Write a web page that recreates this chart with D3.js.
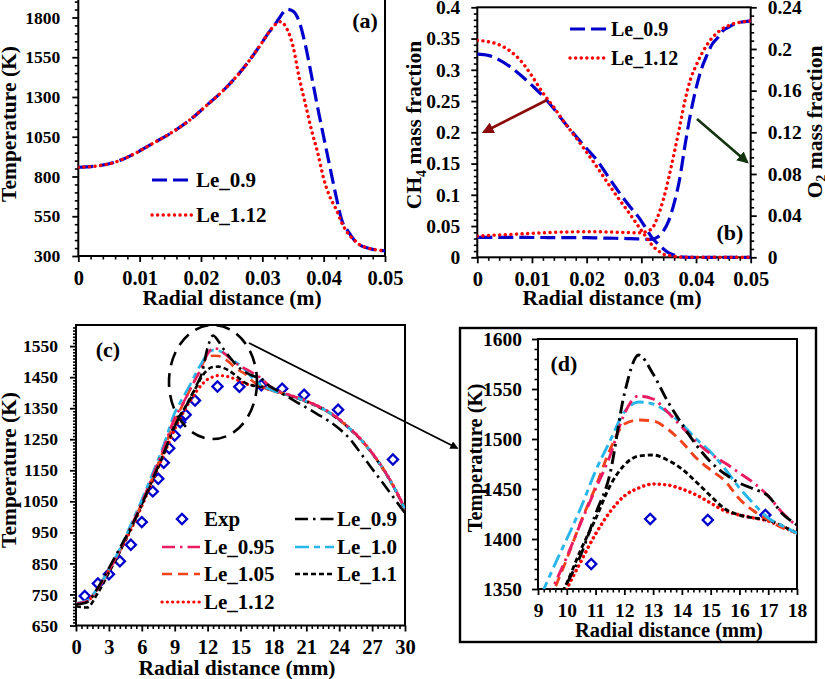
<!DOCTYPE html>
<html><head><meta charset="utf-8">
<script src="https://cdn.jsdelivr.net/npm/d3@7"></script>
<style>
body{margin:0;background:#fff;}
svg{display:block;}
</style></head><body>
<svg id="chart" width="825" height="679"></svg>
<script>
// ---------- DATA ----------
// Panel (a): temperature vs radial distance (m)
const aX = [0,0.003,0.006,0.009,0.012,0.015,0.018,0.021,0.024,0.027,0.03,0.031,0.032,0.033,0.034,0.035,0.036,0.037,0.038,0.039,0.04,0.041,0.042,0.043,0.044,0.045,0.046,0.047,0.048,0.05];
const aT_Le09  = [858,866,890,940,1005,1071,1150,1250,1355,1485,1645,1703,1752,1810,1852,1840,1775,1630,1438,1238,1050,864,680,520,455,400,367,352,342,333];
const aT_Le112 = [858,866,890,940,1005,1071,1150,1250,1355,1485,1645,1703,1752,1773,1729,1620,1423,1259,1094,953,787,673,597,505,440,400,367,352,342,333];
const aXTicks = [0,0.01,0.02,0.03,0.04,0.05];
const aYTicks = [300,550,800,1050,1300,1550,1800];

// Panel (b): CH4 (left axis) and O2 (right axis) mass fractions
const bX = [0,0.002,0.004,0.006,0.008,0.01,0.012,0.014,0.016,0.018,0.02,0.022,0.024,0.026,0.028,0.03,0.031,0.032,0.033,0.034,0.035,0.036,0.037,0.038,0.039,0.04,0.041,0.042,0.043,0.044,0.045,0.046,0.047,0.048,0.05];
const bCH4_Le09  = [0.325,0.323,0.316,0.305,0.291,0.275,0.258,0.2375,0.215,0.194,0.174,0.154,0.128,0.103,0.080,0.058,0.044,0.031,0.0217,0.0138,0.007,0.0035,0.0012,0.0003,0,0,0,0,0,0,0,0,0,0,0];
const bCH4_Le112 = [0.347,0.345,0.340,0.330,0.314,0.290,0.263,0.240,0.215,0.192,0.168,0.143,0.117,0.092,0.068,0.043,0.031,0.019,0.011,0.005,0.003,0.0015,0.0005,0,0,0,0,0,0,0,0,0,0,0,0];
const bO2_Le09   = [0.0192,0.0192,0.0192,0.0191,0.0191,0.019,0.019,0.0189,0.0189,0.0188,0.0188,0.0186,0.0184,0.0182,0.0179,0.0175,0.0173,0.0175,0.0195,0.025,0.035,0.052,0.075,0.108,0.138,0.162,0.181,0.194,0.205,0.211,0.218,0.221,0.224,0.2255,0.227];
const bO2_Le112  = [0.0204,0.021,0.0215,0.022,0.0225,0.023,0.0235,0.024,0.0243,0.0245,0.0246,0.0245,0.0243,0.024,0.0237,0.0235,0.025,0.028,0.039,0.055,0.076,0.100,0.125,0.151,0.171,0.184,0.195,0.204,0.211,0.216,0.220,0.2225,0.2245,0.2255,0.227];
const bXTicks = [0,0.01,0.02,0.03,0.04,0.05];
const bYTicksL = [0,0.05,0.1,0.15,0.2,0.25,0.3,0.35,0.4];
const bYTicksR = [0,0.04,0.08,0.12,0.16,0.2,0.24];

// Panels (c) and (d): temperature vs radial distance (mm)
const cX = [0,1,2,3,4,5,6,7,8,9,9.5,10,10.5,11,11.5,12,12.5,13,13.5,14,14.5,15,15.5,16,16.5,17,17.5,18,19,20,21,22,23,24,25,26,27,28,29,30];
const cT_Le09  = [718,725,772,835,900,965,1040,1122,1205,1292,1325,1355,1385,1425,1465,1545,1584,1565,1538,1515,1494,1477,1465,1456,1450,1443,1425,1414,1393,1372,1352,1331,1310,1284,1250,1203,1155,1108,1060,1012];
const cT_Le095 = [720,728,770,828,893,968,1047,1133,1222,1318,1350,1382,1417,1450,1483,1525,1543,1540,1527,1512,1497,1485,1476,1466,1456,1443,1426,1413,1398,1386,1373,1358,1339,1314,1284,1249,1206,1156,1096,1026];
const cT_Le10  = [722,730,772,830,897,975,1055,1142,1232,1335,1369,1400,1432,1468,1498,1527,1537,1535,1527,1515,1500,1487,1470,1451,1435,1421,1413,1406,1396,1385,1372,1357,1338,1313,1283,1248,1205,1155,1095,1025];
const cT_Le105 = [721,729,771,829,892,965,1043,1128,1216,1310,1345,1380,1418,1452,1489,1515,1519,1518,1510,1497,1481,1469,1458,1440,1428,1419,1411,1406,1396,1385,1372,1357,1338,1313,1283,1248,1205,1155,1095,1025];
const cT_Le11  = [712,708,755,820,888,962,1040,1122,1205,1300,1328,1356,1390,1420,1453,1474,1483,1484,1479,1470,1457,1443,1430,1424,1421,1419,1413,1406,1395,1384,1371,1356,1337,1312,1282,1247,1204,1154,1094,1024];
const cT_Le112 = [722,728,770,828,890,958,1035,1118,1200,1282,1318,1350,1378,1405,1427,1443,1451,1455,1454,1450,1444,1436,1428,1424,1421,1418,1412,1406,1397,1386,1373,1358,1339,1314,1284,1249,1206,1156,1096,1026];
const expX = [0.8,2,3,4,5,6,7,7.5,8,8.5,9,9.5,10,10.85,12.9,14.9,16.9,18.8,20.8,23.9,28.9];
const expT = [745,785,815,857,910,983,1082,1123,1174,1221,1262,1305,1329,1375,1420,1419,1424,1413,1393,1345,1185];
const cXTicks = [0,3,6,9,12,15,18,21,24,27,30];
const cYTicks = [650,750,850,950,1050,1150,1250,1350,1450,1550];
const dXTicks = [9,10,11,12,13,14,15,16,17,18];
const dYTicks = [1350,1400,1450,1500,1550,1600];

const seriesNames = ["Le_0.9","Le_0.95","Le_1.0","Le_1.05","Le_1.1","Le_1.12"];

// ---------- STYLES ----------
const FONT = '"Liberation Serif","Times New Roman",serif';
const styles = {
  "Le_0.9":  {color:"#000000", dash:"13 5 2.5 5", w:2.6},
  "Le_0.95": {color:"#EC1C62", dash:"13 5 2.5 5", w:2.6},
  "Le_1.0":  {color:"#27B5EA", dash:"14 5 6 5",   w:2.6},
  "Le_1.05": {color:"#F2421B", dash:"10 6",       w:2.6},
  "Le_1.1":  {color:"#000000", dash:"5 3",        w:2.6},
  "Le_1.12": {color:"#FF0000", dash:"0.1 5.2",    w:3.2, cap:"round"}
};
const blueDash = {color:"#0000CC", dash:"15 6", w:3.2};
const redDot = {color:"#FF0000", dash:"0.1 5.5", w:3.4, cap:"round"};

const svg = d3.select("#chart");
const defs = svg.append("defs");
function marker(id, color){
  defs.append("marker").attr("id",id).attr("viewBox","0 0 10 10").attr("refX",8).attr("refY",5)
    .attr("markerWidth",4.5).attr("markerHeight",4.5).attr("orient","auto")
    .append("path").attr("d","M0,0L10,5L0,10z").attr("fill",color);
}
marker("arRed","#8B0A0A"); marker("arGreen","#14330F"); marker("arBlack","#000");

function minors(lo, hi, step, majors){
  const n = Math.round((hi-lo)/step);
  return d3.range(0,n+1).map(i=>lo+i*step).filter(v=>!majors.some(m=>Math.abs(m-v)<step/10));
}
function addAxis(g, type, scale, pos, majors, mins, o){
  const gen = {left:d3.axisLeft, right:d3.axisRight, bottom:d3.axisBottom}[type];
  const tr = type==="bottom" ? `translate(0,${pos})` : `translate(${pos},0)`;
  const gm = g.append("g").attr("transform",tr).call(gen(scale).tickValues(mins).tickSize(o.minorLen||3.5).tickFormat(""));
  gm.select(".domain").remove();
  gm.selectAll("line").attr("stroke","#000").attr("stroke-width",1.6);
  const gM = g.append("g").attr("transform",tr).call(gen(scale).tickValues(majors).tickSize(o.majorLen||6).tickPadding(o.pad).tickFormat(o.fmt||(d=>String(d))));
  gM.select(".domain").remove();
  gM.selectAll("line").attr("stroke","#000").attr("stroke-width",1.8);
  gM.selectAll("text").attr("font-family",FONT).attr("font-weight","bold").attr("font-size",o.fs).attr("fill","#000");
}
function drawLine(g, x, y, xs, ys, st, clip){
  const data = xs.map((d,i)=>[d,ys[i]]);
  g.append("path").datum(data)
    .attr("d", d3.line().x(d=>x(d[0])).y(d=>y(d[1])).curve(d3.curveMonotoneX))
    .attr("fill","none").attr("stroke",st.color).attr("stroke-width",st.w)
    .attr("stroke-dasharray",st.dash).attr("stroke-linecap",st.cap||"butt")
    .attr("clip-path", clip?`url(#${clip})`:null);
}
function clipRect(id, x0, y0, x1, y1){
  defs.append("clipPath").attr("id",id).append("rect").attr("x",x0).attr("y",y0).attr("width",x1-x0).attr("height",y1-y0);
}
function text(g, x, y, str, fs, anchor, rot){
  const t = g.append("text").attr("x",x).attr("y",y).attr("font-family",FONT).attr("font-weight","bold")
    .attr("font-size",fs).attr("text-anchor",anchor||"start").attr("fill","#000").text(str);
  if (rot) t.attr("transform",`rotate(${rot},${x},${y})`);
  return t;
}
function legendSample(g, x0, x1, y, st){
  g.append("line").attr("x1",x0).attr("x2",x1).attr("y1",y).attr("y2",y)
    .attr("stroke",st.color).attr("stroke-width",st.w).attr("stroke-dasharray",st.dash).attr("stroke-linecap",st.cap||"butt");
}
const diamond = d3.symbol().type(d3.symbolSquare).size(52);
function drawDiamonds(g, x, y, xs, ys, clip){
  g.append("g").attr("clip-path", clip?`url(#${clip})`:null).selectAll("path").data(xs.map((d,i)=>[d,ys[i]])).join("path")
    .attr("d",diamond).attr("transform",d=>`translate(${x(d[0])},${y(d[1])}) rotate(45)`)
    .attr("fill","none").attr("stroke","#0000CC").attr("stroke-width",2.3);
}
const TITLE = 21.5, XT = 20.5, LEG = 21;

// ---------- PANEL (a) ----------
{
  const L=78.3, R=385, T=0, B=256;
  const g = svg.append("g");
  const x = d3.scaleLinear().domain([0,0.05]).range([L,R]);
  const y = d3.scaleLinear().domain([300,1910]).range([B,T]);
  clipRect("clipA", L, T-2, R, B);
  addAxis(g,"left",y,L,aYTicks,minors(300,1900,50,aYTicks),{pad:12,fs:17.5});
  addAxis(g,"bottom",x,B,aXTicks,minors(0,0.05,0.002,aXTicks),{pad:8,fs:XT});
  g.append("path").attr("d",`M${L},${T}V${B}H${R}V${T}`).attr("fill","none").attr("stroke","#000").attr("stroke-width",2);
  drawLine(g,x,y,aX,aT_Le09,blueDash,"clipA");
  drawLine(g,x,y,aX,aT_Le112,redDot,"clipA");
  text(g, 232, 305, "Radial distance (m)", TITLE, "middle");
  text(g, 16, 124, "Temperature (K)", TITLE, "middle", -90);
  text(g, 365, 28, "(a)", 22, "middle");
  legendSample(g,152,193,180,blueDash); text(g,196,187,"Le_0.9",LEG);
  legendSample(g,152,193,215,redDot); text(g,196,222,"Le_1.12",LEG);
}

// ---------- PANEL (b) ----------
{
  const L=477.3, R=750.7, T=7.3, B=257.3;
  const g = svg.append("g");
  const x = d3.scaleLinear().domain([0,0.05]).range([L,R]);
  const yL = d3.scaleLinear().domain([0,0.4]).range([B,T]);
  const yR = d3.scaleLinear().domain([0,0.24]).range([B,T]);
  clipRect("clipB", L, T, R, B+2);
  addAxis(g,"left",yL,L,bYTicksL,minors(0,0.4,0.01,bYTicksL),{pad:11,fs:19.5});
  addAxis(g,"right",yR,R,bYTicksR,minors(0,0.24,0.008,bYTicksR),{pad:11,fs:19.5});
  addAxis(g,"bottom",x,B,bXTicks,minors(0,0.05,0.002,bXTicks),{pad:8,fs:XT});
  g.append("rect").attr("x",L).attr("y",T).attr("width",R-L).attr("height",B-T).attr("fill","none").attr("stroke","#000").attr("stroke-width",2);
  drawLine(g,x,yL,bX,bCH4_Le09,blueDash,"clipB");
  drawLine(g,x,yR,bX,bO2_Le09,blueDash,"clipB");
  drawLine(g,x,yL,bX,bCH4_Le112,redDot,"clipB");
  drawLine(g,x,yR,bX,bO2_Le112,redDot,"clipB");
  text(g, 612, 305, "Radial distance (m)", TITLE, "middle");
  const tl = text(g, 421, 125, "CH", TITLE, "middle", -90);
  tl.append("tspan").attr("font-size",14).attr("dy",5).text("4");
  tl.append("tspan").attr("dy",-5).text(" mass fraction");
  const tr = text(g, 822, 122, "O", TITLE, "middle", -90);
  tr.append("tspan").attr("font-size",14).attr("dy",4).text("2");
  tr.append("tspan").attr("dy",-4).text(" mass fraction");
  text(g, 730, 240, "(b)", 22, "middle");
  legendSample(g,570,608,29,blueDash); text(g,611,36,"Le_0.9",20);
  legendSample(g,570,608,58,redDot); text(g,611,65,"Le_1.12",20);
  g.append("line").attr("x1",547).attr("y1",100).attr("x2",484).attr("y2",132).attr("stroke","#8B0A0A").attr("stroke-width",2.6).attr("marker-end","url(#arRed)");
  g.append("line").attr("x1",697).attr("y1",119).attr("x2",747).attr("y2",162).attr("stroke","#14330F").attr("stroke-width",2.6).attr("marker-end","url(#arGreen)");
}

const seriesData = {"Le_0.9":cT_Le09,"Le_0.95":cT_Le095,"Le_1.0":cT_Le10,"Le_1.05":cT_Le105,"Le_1.1":cT_Le11,"Le_1.12":cT_Le112};
const drawOrder = ["Le_1.12","Le_1.1","Le_1.05","Le_1.0","Le_0.95","Le_0.9"];

// ---------- PANEL (c) ----------
{
  const L=76, R=405, T=325, B=625.5;
  const g = svg.append("g");
  const x = d3.scaleLinear().domain([0,30]).range([L,R]);
  const y = d3.scaleLinear().domain([650,1618]).range([B,T]);
  clipRect("clipC", L, T, R, B);
  addAxis(g,"left",y,L,cYTicks,minors(650,1610,10,cYTicks),{pad:12,fs:17.5,minorLen:3});
  addAxis(g,"bottom",x,B,cXTicks,minors(0,30,0.5,cXTicks),{pad:8,fs:XT});
  g.append("rect").attr("x",L).attr("y",T).attr("width",R-L).attr("height",B-T).attr("fill","none").attr("stroke","#000").attr("stroke-width",2);
  drawDiamonds(g,x,y,expX,expT,"clipC");
  drawOrder.forEach(n=>drawLine(g,x,y,cX,seriesData[n],styles[n],"clipC"));
  text(g, 237, 675, "Radial distance (mm)", TITLE, "middle");
  text(g, 16, 470, "Temperature (K)", TITLE, "middle", -90);
  text(g, 108, 357, "(c)", 22, "middle");
  // ellipse + connector
  g.append("ellipse").attr("cx",213).attr("cy",382).attr("rx",44).attr("ry",57)
    .attr("fill","none").attr("stroke","#000").attr("stroke-width",2.6).attr("stroke-dasharray","14 8");
  svg.append("line").attr("x1",249).attr("y1",343).attr("x2",457).attr("y2",448)
    .attr("stroke","#000").attr("stroke-width",1.8).attr("marker-end","url(#arBlack)");
  // legend
  const rows = [519,547,574,602];
  const lg = g.append("g");
  lg.append("path").attr("d",diamond).attr("transform",`translate(182,${rows[0]}) rotate(45)`)
    .attr("fill","none").attr("stroke","#0000CC").attr("stroke-width",2.3);
  text(lg,204,rows[0]+7,"Exp",LEG);
  [["Le_0.95",1],["Le_1.05",2],["Le_1.12",3]].forEach(([n,r])=>{legendSample(lg,162,200,rows[r],styles[n]); text(lg,204,rows[r]+7,n,LEG);});
  [["Le_0.9",0],["Le_1.0",1],["Le_1.1",2]].forEach(([n,r])=>{legendSample(lg,295,334,rows[r],styles[n]); text(lg,337,rows[r]+7,n,LEG);});
}

// ---------- PANEL (d) ----------
{
  const L=538, R=797, T=339, B=589;
  const g = svg.append("g");
  g.append("rect").attr("x",460).attr("y",328).attr("width",356).attr("height",314).attr("fill","#fff").attr("stroke","#000").attr("stroke-width",2.4);
  const x = d3.scaleLinear().domain([9,18]).range([L,R]);
  const y = d3.scaleLinear().domain([1350,1600]).range([B,T]);
  clipRect("clipD", L, T, R, B);
  addAxis(g,"left",y,L,dYTicks,minors(1350,1600,10,dYTicks),{pad:10,fs:19.5});
  addAxis(g,"bottom",x,B,dXTicks,minors(9,18,0.2,dXTicks),{pad:8,fs:19.5});
  g.append("rect").attr("x",L).attr("y",T).attr("width",R-L).attr("height",B-T).attr("fill","none").attr("stroke","#000").attr("stroke-width",2);
  drawDiamonds(g,x,y,expX,expT,"clipD");
  drawOrder.forEach(n=>drawLine(g,x,y,cX,seriesData[n],Object.assign({},styles[n],{w:styles[n].w+0.3}),"clipD"));
  text(g, 669, 637, "Radial distance (mm)", 20.5, "middle");
  text(g, 482, 458, "Temperature (K)", 20.5, "middle", -90);
  text(g, 564, 371, "(d)", 22, "middle");
}
</script></body></html>
